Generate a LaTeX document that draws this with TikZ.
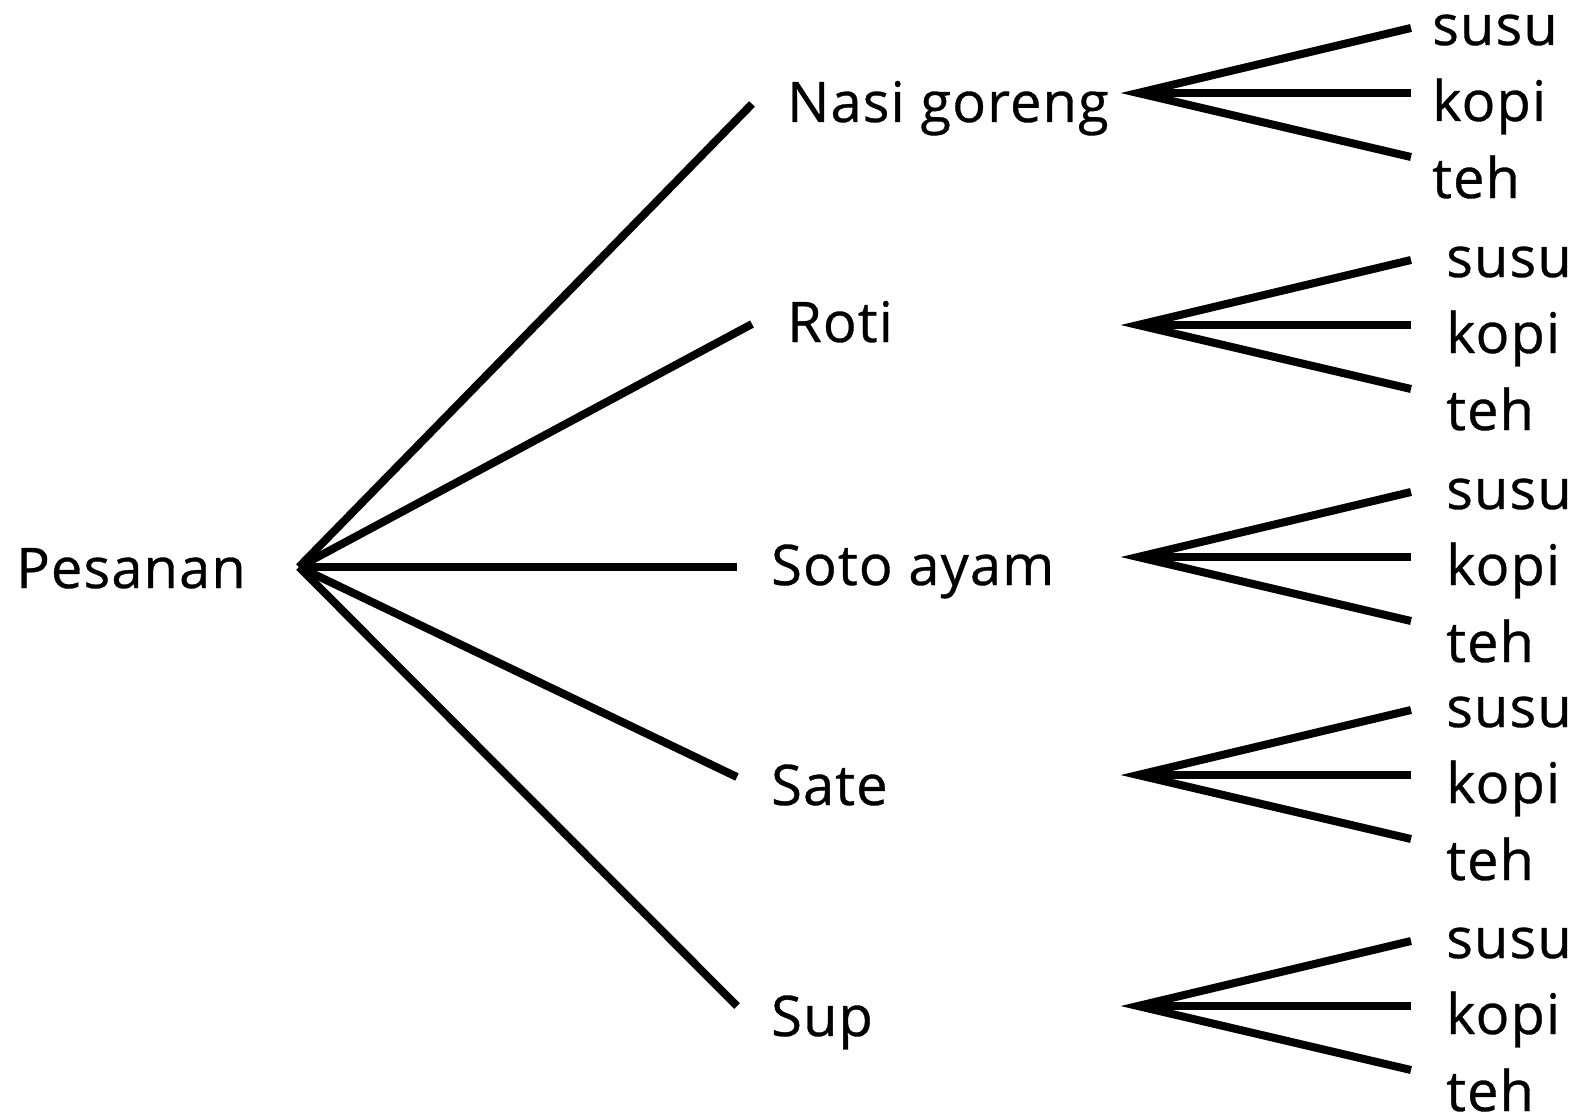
\documentclass[tikz,border=0pt]{standalone}
\usepackage{fontspec}
\setmainfont{Open Sans}[FakeBold=0.6,LetterSpace=2.0]
\begin{document}
\begin{tikzpicture}[x=1pt,y=-1pt,
  lbl/.style={anchor=base west,inner sep=0pt,font=\fontsize{56}{60}\selectfont},
  edge/.style={draw=black,line width=8pt,line cap=butt,line join=miter}]
\useasboundingbox (0,0) rectangle (1589,1118);
% level-0 and level-1 labels
\node[lbl] (pes) at (16,588) {Pesanan};
\node[lbl] (nasi) at (787,122) {Nasi goreng};
\node[lbl] (roti) at (787,342) {Roti};
\node[lbl] (soto) at (771,585) {Soto ayam};
\node[lbl] (sate) at (771,805) {Sate};
\node[lbl] (sup) at (771,1036) {Sup};
% root apex and branch ends
\coordinate (root) at (299,567);
\coordinate (eNasi) at (752,104);
\coordinate (eRoti) at (752,324);
\coordinate (eSoto) at (737,567);
\coordinate (eSate) at (737,777);
\coordinate (eSup) at (737,1006);
\foreach \e in {eNasi,eRoti,eSoto,eSate,eSup}
  \draw[edge] (root) -- (\e);
% second level
\foreach \g/\c/\lx in {1/93/1432,2/325/1446,3/557/1446,4/775/1446,5/1006/1446}{
  \coordinate (a\g) at (1138,\c);
  \coordinate (t\g) at (1411,\c-65);
  \coordinate (m\g) at (1411,\c);
  \coordinate (b\g) at (1411,\c+64);
  \draw[edge] (t\g) -- (a\g) -- (b\g);
  \draw[edge] (a\g) -- (m\g);
  \node[lbl] (susu\g) at (\lx,\c-48) {susu};
  \node[lbl] (kopi\g) at (\lx,\c+28) {kopi};
  \node[lbl] (teh\g) at (\lx,\c+105) {teh};
}
\end{tikzpicture}
\end{document}
